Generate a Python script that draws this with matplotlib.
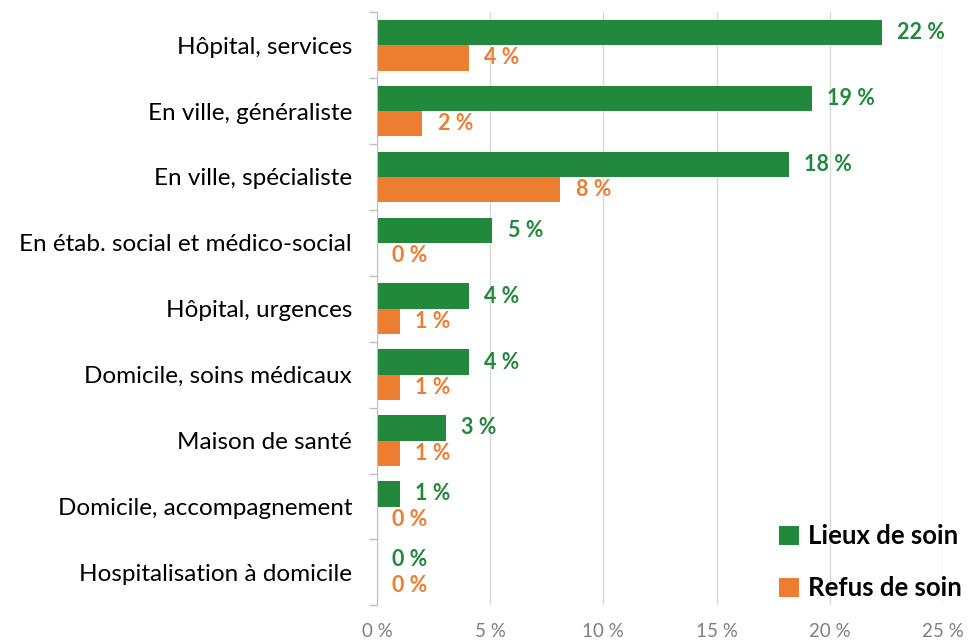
import numpy as np
import matplotlib.pyplot as plt
from matplotlib.ticker import FixedLocator, FuncFormatter

categories = ["Hôpital, services", "En ville, généraliste", "En ville, spécialiste",
              "En étab. social et médico-social", "Hôpital, urgences",
              "Domicile, soins médicaux", "Maison de santé",
              "Domicile, accompagnement", "Hospitalisation à domicile"]
lieux = [22.3, 19.2, 18.2, 5.1, 4.05, 4.05, 3.05, 1.0, 0.0]
refus = [4.05, 2.0, 8.1, 0.0, 1.0, 1.0, 1.0, 0.0, 0.0]

vert = "#22883B"
orange = "#ED7D31"

plt.rcParams['font.family'] = ['Lato', 'DejaVu Sans']

fig = plt.figure(figsize=(9.73, 6.44), dpi=100)
ax = fig.add_axes([0.3875, 0.06, 0.5815, 0.921])

y = np.arange(len(categories))
h = 0.385
ax.barh(y - h / 2, lieux, height=h, color=vert, label="Lieux de soin")
ax.barh(y + h / 2, refus, height=h, color=orange, label="Refus de soin")

for i in range(len(categories)):
    ax.annotate(f"{round(lieux[i])} %", (lieux[i], y[i] - h / 2), xytext=(11, 0),
                textcoords="offset points", va="center", ha="left",
                color=vert, fontsize=15.5, fontweight="bold")
    ax.annotate(f"{round(refus[i])} %", (refus[i], y[i] + h / 2), xytext=(11, 0),
                textcoords="offset points", va="center", ha="left",
                color=orange, fontsize=15.5, fontweight="bold")

ax.set_ylim(len(categories) - 0.5, -0.5)
ax.set_xlim(0, 25)
ax.set_yticks(y)
ax.set_yticklabels(categories, fontsize=17.5)
ax.yaxis.set_minor_locator(FixedLocator(np.arange(-0.5, len(categories), 1)))
ax.tick_params(axis="y", which="major", length=0, pad=18)
ax.tick_params(axis="y", which="minor", length=6, color="#BFBFBF", width=1)

ax.set_xticks(np.arange(0, 26, 5))
ax.xaxis.set_major_formatter(FuncFormatter(lambda v, p: f"{int(v)} %"))
ax.tick_params(axis="x", length=0, pad=13, labelsize=13.5, labelcolor="#7F7F7F")
ax.grid(axis="x", color="#D9D9D9", linewidth=1)
ax.set_axisbelow(True)

for s in ["top", "right", "bottom"]:
    ax.spines[s].set_visible(False)
ax.spines["left"].set_color("#BFBFBF")

leg = ax.legend(loc="lower right", bbox_to_anchor=(1.065, -0.022), frameon=False,
                prop={"size": 18.5, "weight": "bold"}, handlelength=0.75,
                handleheight=0.75, handletextpad=0.35, labelspacing=1.1,
                borderpad=0.2)

plt.savefig("out.png", dpi=100)
